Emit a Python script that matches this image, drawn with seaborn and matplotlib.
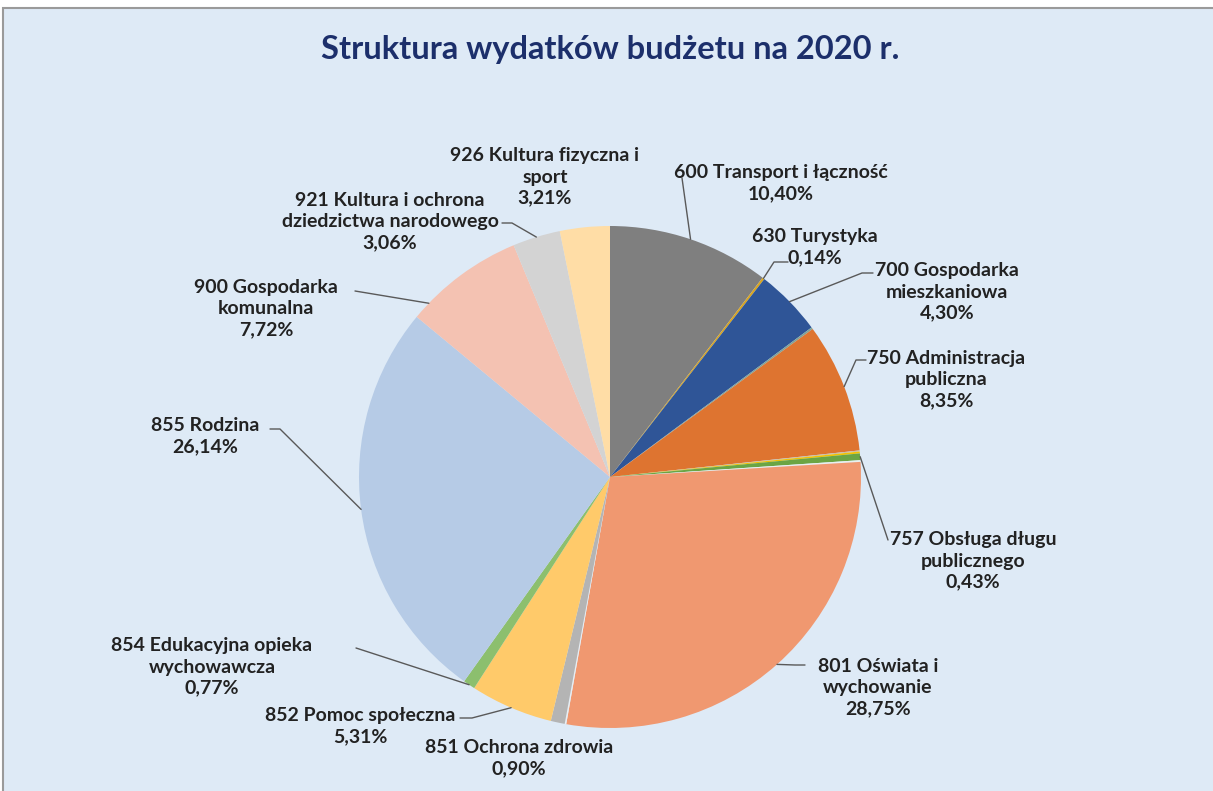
import matplotlib
matplotlib.use("Agg")
import matplotlib.pyplot as plt
import numpy as np
import seaborn as sns

# dane: wydatki budżetu 2020 (%), kolejność zgodnie z ruchem wskazówek zegara od góry
categories = ["600 Transport i łączność", "630 Turystyka", "700 Gospodarka\nmieszkaniowa",
              "pozostałe a", "750 Administracja\npubliczna", "pozostałe b", "pozostałe c",
              "757 Obsługa długu\npublicznego", "pozostałe d", "801 Oświata i\nwychowanie",
              "pozostałe e", "851 Ochrona zdrowia", "852 Pomoc społeczna",
              "854 Edukacyjna opieka\nwychowawcza", "855 Rodzina", "900 Gospodarka\nkomunalna",
              "921 Kultura i ochrona\ndziedzictwa narodowego", "926 Kultura fizyczna i\nsport"]
shares = [10.40, 0.14, 4.30, 0.12, 8.35, 0.07, 0.12, 0.43, 0.11, 28.75,
          0.10, 0.90, 5.31, 0.77, 26.14, 7.72, 3.06, 3.21]
show_label = [True, True, True, False, True, False, False, True, False, True,
              False, True, True, True, True, True, True, True]
slice_colors = ["#7F7F7F", "#D9A520", "#2F5597", "#7FA39A", "#DE7430", "#C8BEAA", "#F2C200",
                "#6BA544", "#E8F0F0", "#F09870", "#E8EEF2", "#B4B4B4", "#FFCA6A", "#8CBF6E",
                "#B6CBE6", "#F4C2B2", "#D3D3D3", "#FFDDA6"]

# położenie etykiet (piksele, od góry) i punkty linii odniesienia
label_pos = {
    0: (781, 183), 1: (815, 247), 2: (947, 292), 4: (946, 380), 7: (973, 561),
    9: (878, 688), 11: (519, 758), 12: (360, 726), 13: (212, 667), 14: (205, 436),
    15: (266, 309), 16: (390, 222), 17: (545, 177),
}
leader_start = {
    0: [(682, 178)], 1: [(788, 262), (774, 262)], 2: [(873, 273), (862, 273)],
    4: [(866, 360), (856, 360)], 7: [(888, 540)], 9: [(805, 665), (795, 665)],
    12: [(460, 718), (472, 718)], 13: [(356, 648)], 14: [(270, 429), (280, 429)],
    15: [(355, 291)], 16: [(502, 223), (512, 223)],
}
# kąt końca linii odniesienia jako część wycinka (0.5 = środek)
leader_frac = {15: 0.15}

W, H = 1213, 791
cx, cy, R = 610, 477, 251

sns.set_style("white")
plt.rcParams['font.family'] = ['Lato', 'DejaVu Sans']

fig = plt.figure(figsize=(W / 100, H / 100), dpi=100, facecolor="white")
ax = fig.add_axes([0, 0, 1, 1])

wedges, _ = ax.pie(shares, startangle=90, counterclock=False, center=(cx, H - cy), radius=R,
                   colors=slice_colors, wedgeprops=dict(linewidth=0))
for w in wedges:
    w.set_zorder(2)

ax.set_xlim(0, W)
ax.set_ylim(0, H)
ax.set_aspect("equal")
ax.axis("off")

# tło wykresu z ramką
bg = plt.Rectangle((3, -5), W, H - 8 + 5, facecolor="#DEEAF6", edgecolor="#9A9A9A",
                   linewidth=1.5, zorder=0)
ax.add_patch(bg)

ax.text(610, H - 50, "Struktura wydatków budżetu na 2020 r.", ha="center", va="center",
        fontsize=23.5, fontweight="bold", color="#1C2F6B")

total = sum(shares)
cum = np.cumsum([0] + shares[:-1])
for i, (name, val) in enumerate(zip(categories, shares)):
    if not show_label[i]:
        continue
    ang = (cum[i] + val * leader_frac.get(i, 0.5)) / total * 2 * np.pi
    ex, ey = cx + R * np.sin(ang), cy - R * np.cos(ang)
    lx, ly = label_pos[i]
    txt = f"{name}\n{val:.2f}%".replace(".", ",")
    ax.text(lx, H - ly, txt, ha="center", va="center", fontsize=14, fontweight="bold",
            color="#222222", linespacing=1.3, zorder=4)
    if i in leader_start:
        pts = leader_start[i] + [(ex, ey)]
        ax.plot([p[0] for p in pts], [H - p[1] for p in pts], color="#595959", lw=1, zorder=3)

fig.savefig("out.png", dpi=100, facecolor="white")
